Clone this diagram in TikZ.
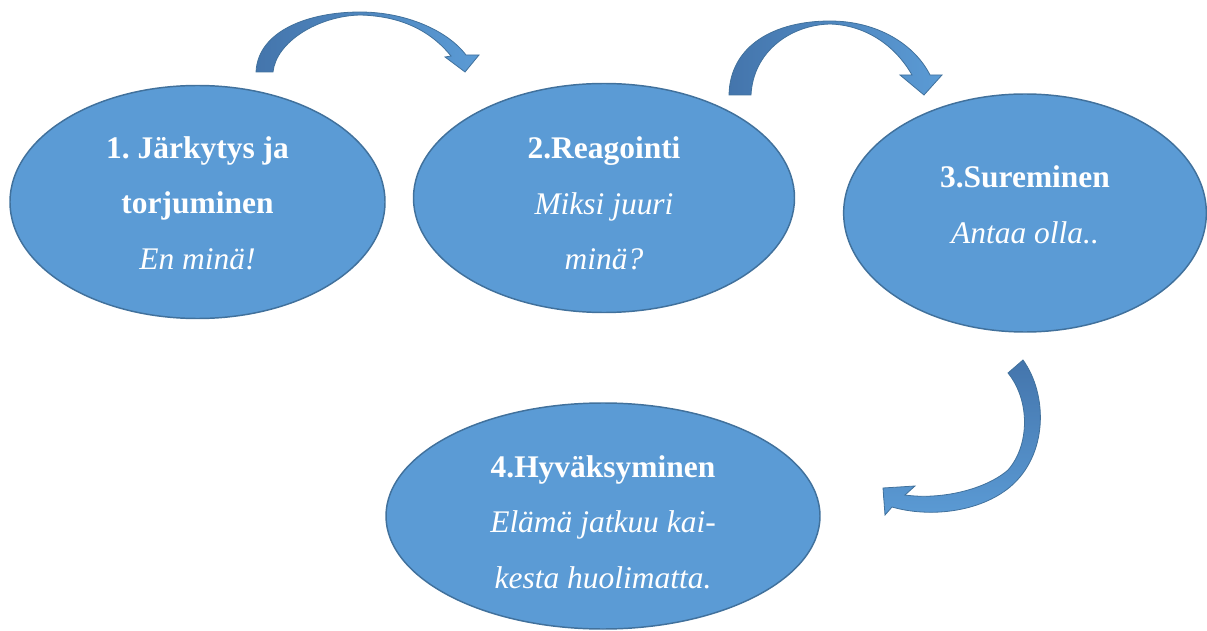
\documentclass[tikz,border=0pt]{standalone}
\usepackage{fontspec}
\setmainfont{Liberation Serif}
\usetikzlibrary{shapes.geometric}
\definecolor{phasefill}{RGB}{91,155,213}
\definecolor{phaseline}{RGB}{65,113,156}
\definecolor{arrowdark}{RGB}{68,117,172}
\frenchspacing

\begin{document}
\begin{tikzpicture}[% one unit is one pixel of the page, y grows downwards
			x=0.75pt,y=-0.75pt,
			phase/.style={
				ellipse,
				draw=phaseline,line width=1.1pt,
				fill=phasefill,
				inner sep=0pt
			},
			phasetext/.style={
				align=center,  		% so that "\\" breaks the line
				text=white,
				font=\fontsize{23.6pt}{41.6pt}\selectfont
			},
			bentarrow/.style={draw=phaseline,line width=0.6pt}
		]
		\useasboundingbox (0,0) rectangle (1207,631);
		% the four phases
		\node[phase,minimum width=281.25pt,minimum height=174.75pt](E1) at (197.5,202){};
		\node[phase,minimum width=285.75pt,minimum height=171.75pt](E2) at (604,198){};
		\node[phase,minimum width=272pt,minimum height=178.5pt](E3) at (1025,213){};
		\node[phase,minimum width=325.5pt,minimum height=169.5pt](E4) at (603,516){};
		\node[phasetext,yshift=-0.75pt](T1) at (E1.center){\textbf{1. Järkytys ja}\\ \textbf{torjuminen}\\ \textit{En minä!}};
		\node[phasetext,yshift=-4pt](T2) at (E2.center){\textbf{2.Reagointi}\\ \textit{Miksi juuri}\\ \textit{minä?}};
		\node[phasetext,yshift=6pt](T3) at (E3.center){\textbf{3.Sureminen}\\ \textit{Antaa olla..}};
		\node[phasetext,yshift=-4.5pt](T4) at (E4.center){\textbf{4.Hyväksyminen}\\ \textit{Elämä jatkuu kai-}\\ \textit{kesta huolimatta.}};
		% bent block arrows
		\path[bentarrow,left color=arrowdark,right color=phasefill]
		(256,72) .. controls (258,30) and (310,12) .. (360,12)
		.. controls (405,12) and (447,30) .. (466,55)
		-- (479,55) -- (465,72) -- (445,57) -- (451,56)
		.. controls (430,30) and (400,16) .. (360,15)
		.. controls (318,16) and (276,42) .. (273,72) -- cycle;
		\path[bentarrow,left color=arrowdark,right color=phasefill]
		(729,95) .. controls (730,45) and (775,21) .. (830,21)
		.. controls (878,21) and (915,45) .. (930,75)
		-- (942,75) -- (924,95) -- (900,75) -- (912,75)
		.. controls (895,45) and (865,25) .. (830,24)
		.. controls (790,25) and (753,52) .. (751,95) -- cycle;
		\path[bentarrow,top color=arrowdark,bottom color=phasefill]
		(1008,373) -- (1023,360)
		.. controls (1048,395) and (1048,455) .. (1010,487)
		.. controls (980,512) and (930,518) .. (892,507)
		-- (885,515) -- (883,488) -- (915,486) -- (905,495)
		.. controls (940,500) and (985,490) .. (1008,470)
		.. controls (1030,445) and (1030,400) .. (1008,373) -- cycle;
	\end{tikzpicture}
\end{document}
